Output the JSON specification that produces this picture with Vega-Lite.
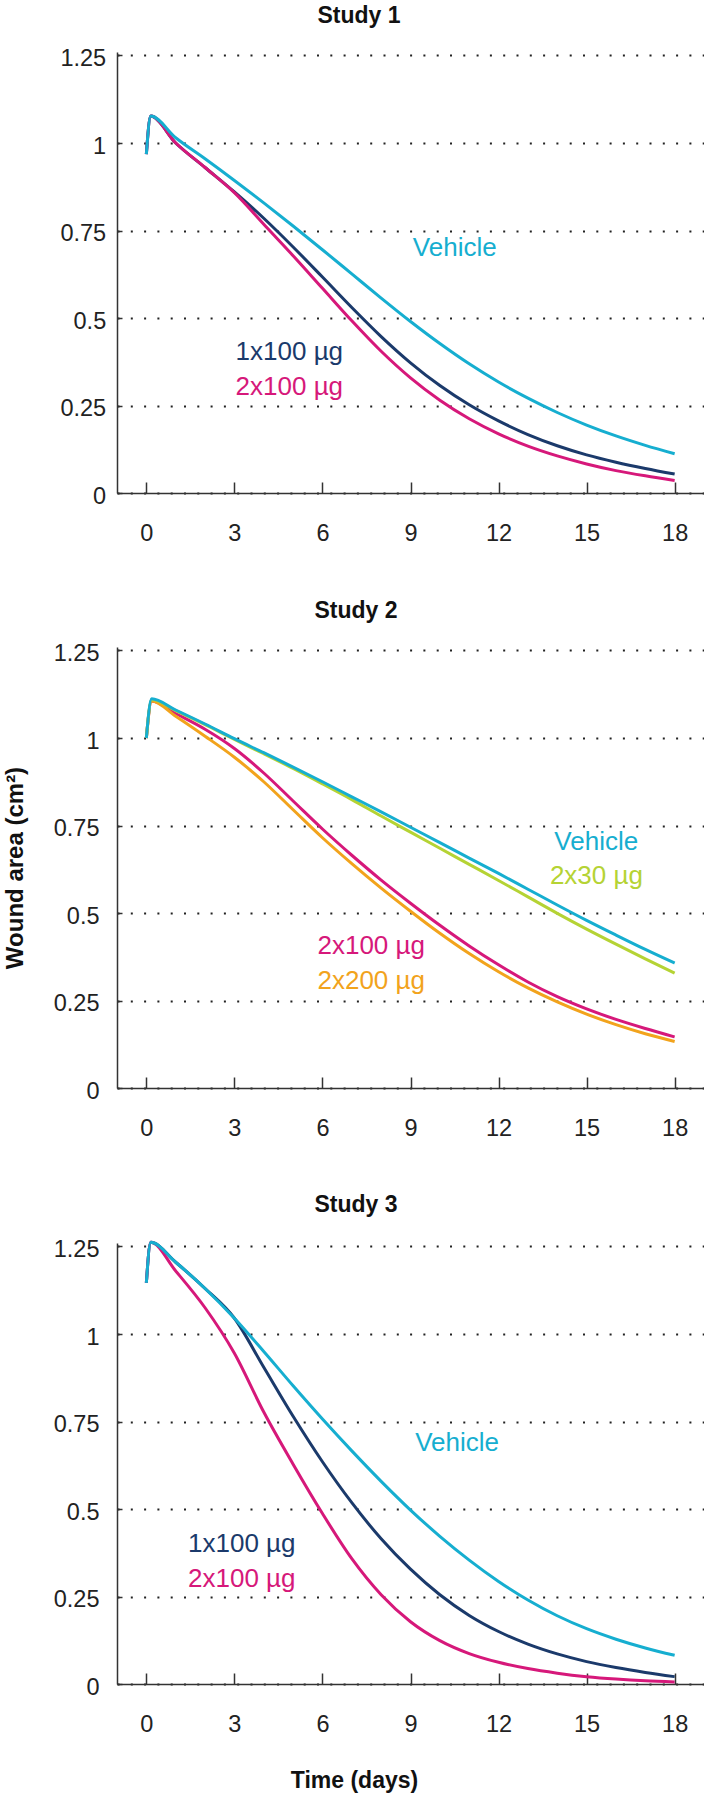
{
  "$schema": "https://vega.github.io/schema/vega-lite/v6.json",
  "background": "white",
  "padding": {"left": 3, "top": 4, "right": 0, "bottom": 0},
  "columns": 1,
  "align": "none",
  "spacing": 54,
  "config": {
    "font": "Liberation Sans",
    "view": {"stroke": null},
    "axis": {
      "domainColor": "#333333", "domainWidth": 1.5,
      "tickColor": "#333333", "tickWidth": 1.5,
      "labelColor": "#222222", "labelFontSize": 23.5, "labelFont": "Liberation Sans",
      "gridColor": "#222222", "gridDash": [2, 11.3], "gridWidth": 2,
      "titleColor": "#111111", "titleFont": "Liberation Sans", "titleFontWeight": "bold"
    },
    "title": {"font": "Liberation Sans", "fontSize": 23, "fontWeight": "bold", "color": "#111111", "anchor": "middle", "frame": "group", "offset": 19}
  },
  "datasets": {
    "curves": [
      {"s":1,"g":"1x100 µg","d":0,"a":0.968},{"s":1,"g":"1x100 µg","d":0.15,"a":1.077},{"s":1,"g":"1x100 µg","d":1,"a":1.0},{"s":1,"g":"1x100 µg","d":2,"a":0.93},{"s":1,"g":"1x100 µg","d":3,"a":0.86},{"s":1,"g":"1x100 µg","d":4,"a":0.785},{"s":1,"g":"1x100 µg","d":5,"a":0.703},{"s":1,"g":"1x100 µg","d":6,"a":0.617},{"s":1,"g":"1x100 µg","d":7,"a":0.53},{"s":1,"g":"1x100 µg","d":8,"a":0.447},{"s":1,"g":"1x100 µg","d":9,"a":0.372},{"s":1,"g":"1x100 µg","d":10,"a":0.307},{"s":1,"g":"1x100 µg","d":11,"a":0.252},{"s":1,"g":"1x100 µg","d":12,"a":0.206},{"s":1,"g":"1x100 µg","d":13,"a":0.167},{"s":1,"g":"1x100 µg","d":14,"a":0.135},{"s":1,"g":"1x100 µg","d":15,"a":0.109},{"s":1,"g":"1x100 µg","d":16,"a":0.088},{"s":1,"g":"1x100 µg","d":17,"a":0.07},{"s":1,"g":"1x100 µg","d":18,"a":0.054},
      {"s":1,"g":"2x100 µg","d":0,"a":0.968},{"s":1,"g":"2x100 µg","d":0.15,"a":1.077},{"s":1,"g":"2x100 µg","d":1,"a":1.0},{"s":1,"g":"2x100 µg","d":2,"a":0.93},{"s":1,"g":"2x100 µg","d":3,"a":0.858},{"s":1,"g":"2x100 µg","d":4,"a":0.768},{"s":1,"g":"2x100 µg","d":5,"a":0.678},{"s":1,"g":"2x100 µg","d":6,"a":0.585},{"s":1,"g":"2x100 µg","d":7,"a":0.492},{"s":1,"g":"2x100 µg","d":8,"a":0.405},{"s":1,"g":"2x100 µg","d":9,"a":0.329},{"s":1,"g":"2x100 µg","d":10,"a":0.265},{"s":1,"g":"2x100 µg","d":11,"a":0.212},{"s":1,"g":"2x100 µg","d":12,"a":0.169},{"s":1,"g":"2x100 µg","d":13,"a":0.134},{"s":1,"g":"2x100 µg","d":14,"a":0.106},{"s":1,"g":"2x100 µg","d":15,"a":0.083},{"s":1,"g":"2x100 µg","d":16,"a":0.064},{"s":1,"g":"2x100 µg","d":17,"a":0.049},{"s":1,"g":"2x100 µg","d":18,"a":0.036},
      {"s":1,"g":"Vehicle","d":0,"a":0.968},{"s":1,"g":"Vehicle","d":0.15,"a":1.077},{"s":1,"g":"Vehicle","d":1,"a":1.015},{"s":1,"g":"Vehicle","d":2,"a":0.955},{"s":1,"g":"Vehicle","d":3,"a":0.893},{"s":1,"g":"Vehicle","d":4,"a":0.829},{"s":1,"g":"Vehicle","d":5,"a":0.763},{"s":1,"g":"Vehicle","d":6,"a":0.695},{"s":1,"g":"Vehicle","d":7,"a":0.626},{"s":1,"g":"Vehicle","d":8,"a":0.557},{"s":1,"g":"Vehicle","d":9,"a":0.49},{"s":1,"g":"Vehicle","d":10,"a":0.427},{"s":1,"g":"Vehicle","d":11,"a":0.369},{"s":1,"g":"Vehicle","d":12,"a":0.317},{"s":1,"g":"Vehicle","d":13,"a":0.271},{"s":1,"g":"Vehicle","d":14,"a":0.23},{"s":1,"g":"Vehicle","d":15,"a":0.194},{"s":1,"g":"Vehicle","d":16,"a":0.163},{"s":1,"g":"Vehicle","d":17,"a":0.136},{"s":1,"g":"Vehicle","d":18,"a":0.112},
      {"s":2,"g":"2x100 µg","d":0,"a":1.0},{"s":2,"g":"2x100 µg","d":0.18,"a":1.106},{"s":2,"g":"2x100 µg","d":1,"a":1.07},{"s":2,"g":"2x100 µg","d":2,"a":1.025},{"s":2,"g":"2x100 µg","d":3,"a":0.97},{"s":2,"g":"2x100 µg","d":4,"a":0.9},{"s":2,"g":"2x100 µg","d":5,"a":0.82},{"s":2,"g":"2x100 µg","d":6,"a":0.74},{"s":2,"g":"2x100 µg","d":7,"a":0.665},{"s":2,"g":"2x100 µg","d":8,"a":0.594},{"s":2,"g":"2x100 µg","d":9,"a":0.528},{"s":2,"g":"2x100 µg","d":10,"a":0.465},{"s":2,"g":"2x100 µg","d":11,"a":0.406},{"s":2,"g":"2x100 µg","d":12,"a":0.352},{"s":2,"g":"2x100 µg","d":13,"a":0.303},{"s":2,"g":"2x100 µg","d":14,"a":0.261},{"s":2,"g":"2x100 µg","d":15,"a":0.226},{"s":2,"g":"2x100 µg","d":16,"a":0.196},{"s":2,"g":"2x100 µg","d":17,"a":0.17},{"s":2,"g":"2x100 µg","d":18,"a":0.146},
      {"s":2,"g":"2x200 µg","d":0,"a":1.0},{"s":2,"g":"2x200 µg","d":0.18,"a":1.106},{"s":2,"g":"2x200 µg","d":1,"a":1.062},{"s":2,"g":"2x200 µg","d":2,"a":1.005},{"s":2,"g":"2x200 µg","d":3,"a":0.945},{"s":2,"g":"2x200 µg","d":4,"a":0.875},{"s":2,"g":"2x200 µg","d":5,"a":0.795},{"s":2,"g":"2x200 µg","d":6,"a":0.715},{"s":2,"g":"2x200 µg","d":7,"a":0.641},{"s":2,"g":"2x200 µg","d":8,"a":0.571},{"s":2,"g":"2x200 µg","d":9,"a":0.505},{"s":2,"g":"2x200 µg","d":10,"a":0.442},{"s":2,"g":"2x200 µg","d":11,"a":0.384},{"s":2,"g":"2x200 µg","d":12,"a":0.332},{"s":2,"g":"2x200 µg","d":13,"a":0.286},{"s":2,"g":"2x200 µg","d":14,"a":0.246},{"s":2,"g":"2x200 µg","d":15,"a":0.211},{"s":2,"g":"2x200 µg","d":16,"a":0.181},{"s":2,"g":"2x200 µg","d":17,"a":0.155},{"s":2,"g":"2x200 µg","d":18,"a":0.133},
      {"s":2,"g":"2x30 µg","d":0,"a":1.0},{"s":2,"g":"2x30 µg","d":0.18,"a":1.11},{"s":2,"g":"2x30 µg","d":1,"a":1.078},{"s":2,"g":"2x30 µg","d":2,"a":1.038},{"s":2,"g":"2x30 µg","d":3,"a":0.996},{"s":2,"g":"2x30 µg","d":4,"a":0.955},{"s":2,"g":"2x30 µg","d":5,"a":0.913},{"s":2,"g":"2x30 µg","d":6,"a":0.869},{"s":2,"g":"2x30 µg","d":7,"a":0.824},{"s":2,"g":"2x30 µg","d":8,"a":0.777},{"s":2,"g":"2x30 µg","d":9,"a":0.731},{"s":2,"g":"2x30 µg","d":10,"a":0.685},{"s":2,"g":"2x30 µg","d":11,"a":0.639},{"s":2,"g":"2x30 µg","d":12,"a":0.593},{"s":2,"g":"2x30 µg","d":13,"a":0.546},{"s":2,"g":"2x30 µg","d":14,"a":0.499},{"s":2,"g":"2x30 µg","d":15,"a":0.454},{"s":2,"g":"2x30 µg","d":16,"a":0.411},{"s":2,"g":"2x30 µg","d":17,"a":0.369},{"s":2,"g":"2x30 µg","d":18,"a":0.328},
      {"s":2,"g":"Vehicle","d":0,"a":1.0},{"s":2,"g":"Vehicle","d":0.18,"a":1.112},{"s":2,"g":"Vehicle","d":1,"a":1.08},{"s":2,"g":"Vehicle","d":2,"a":1.04},{"s":2,"g":"Vehicle","d":3,"a":0.998},{"s":2,"g":"Vehicle","d":4,"a":0.958},{"s":2,"g":"Vehicle","d":5,"a":0.917},{"s":2,"g":"Vehicle","d":6,"a":0.875},{"s":2,"g":"Vehicle","d":7,"a":0.832},{"s":2,"g":"Vehicle","d":8,"a":0.789},{"s":2,"g":"Vehicle","d":9,"a":0.745},{"s":2,"g":"Vehicle","d":10,"a":0.701},{"s":2,"g":"Vehicle","d":11,"a":0.657},{"s":2,"g":"Vehicle","d":12,"a":0.613},{"s":2,"g":"Vehicle","d":13,"a":0.568},{"s":2,"g":"Vehicle","d":14,"a":0.523},{"s":2,"g":"Vehicle","d":15,"a":0.479},{"s":2,"g":"Vehicle","d":16,"a":0.437},{"s":2,"g":"Vehicle","d":17,"a":0.396},{"s":2,"g":"Vehicle","d":18,"a":0.357},
      {"s":3,"g":"1x100 µg","d":0,"a":1.146},{"s":3,"g":"1x100 µg","d":0.15,"a":1.262},{"s":3,"g":"1x100 µg","d":1,"a":1.205},{"s":3,"g":"1x100 µg","d":2,"a":1.13},{"s":3,"g":"1x100 µg","d":3,"a":1.045},{"s":3,"g":"1x100 µg","d":4,"a":0.905},{"s":3,"g":"1x100 µg","d":5,"a":0.765},{"s":3,"g":"1x100 µg","d":6,"a":0.635},{"s":3,"g":"1x100 µg","d":7,"a":0.518},{"s":3,"g":"1x100 µg","d":8,"a":0.415},{"s":3,"g":"1x100 µg","d":9,"a":0.328},{"s":3,"g":"1x100 µg","d":10,"a":0.255},{"s":3,"g":"1x100 µg","d":11,"a":0.196},{"s":3,"g":"1x100 µg","d":12,"a":0.15},{"s":3,"g":"1x100 µg","d":13,"a":0.114},{"s":3,"g":"1x100 µg","d":14,"a":0.086},{"s":3,"g":"1x100 µg","d":15,"a":0.064},{"s":3,"g":"1x100 µg","d":16,"a":0.047},{"s":3,"g":"1x100 µg","d":17,"a":0.033},{"s":3,"g":"1x100 µg","d":18,"a":0.021},
      {"s":3,"g":"2x100 µg","d":0,"a":1.146},{"s":3,"g":"2x100 µg","d":0.15,"a":1.262},{"s":3,"g":"2x100 µg","d":1,"a":1.18},{"s":3,"g":"2x100 µg","d":2,"a":1.075},{"s":3,"g":"2x100 µg","d":3,"a":0.945},{"s":3,"g":"2x100 µg","d":4,"a":0.777},{"s":3,"g":"2x100 µg","d":5,"a":0.628},{"s":3,"g":"2x100 µg","d":6,"a":0.487},{"s":3,"g":"2x100 µg","d":7,"a":0.358},{"s":3,"g":"2x100 µg","d":8,"a":0.255},{"s":3,"g":"2x100 µg","d":9,"a":0.178},{"s":3,"g":"2x100 µg","d":10,"a":0.124},{"s":3,"g":"2x100 µg","d":11,"a":0.087},{"s":3,"g":"2x100 µg","d":12,"a":0.062},{"s":3,"g":"2x100 µg","d":13,"a":0.044},{"s":3,"g":"2x100 µg","d":14,"a":0.031},{"s":3,"g":"2x100 µg","d":15,"a":0.021},{"s":3,"g":"2x100 µg","d":16,"a":0.014},{"s":3,"g":"2x100 µg","d":17,"a":0.009},{"s":3,"g":"2x100 µg","d":18,"a":0.006},
      {"s":3,"g":"Vehicle","d":0,"a":1.146},{"s":3,"g":"Vehicle","d":0.15,"a":1.262},{"s":3,"g":"Vehicle","d":1,"a":1.205},{"s":3,"g":"Vehicle","d":2,"a":1.13},{"s":3,"g":"Vehicle","d":3,"a":1.045},{"s":3,"g":"Vehicle","d":4,"a":0.95},{"s":3,"g":"Vehicle","d":5,"a":0.852},{"s":3,"g":"Vehicle","d":6,"a":0.757},{"s":3,"g":"Vehicle","d":7,"a":0.666},{"s":3,"g":"Vehicle","d":8,"a":0.579},{"s":3,"g":"Vehicle","d":9,"a":0.497},{"s":3,"g":"Vehicle","d":10,"a":0.422},{"s":3,"g":"Vehicle","d":11,"a":0.354},{"s":3,"g":"Vehicle","d":12,"a":0.293},{"s":3,"g":"Vehicle","d":13,"a":0.24},{"s":3,"g":"Vehicle","d":14,"a":0.195},{"s":3,"g":"Vehicle","d":15,"a":0.158},{"s":3,"g":"Vehicle","d":16,"a":0.128},{"s":3,"g":"Vehicle","d":17,"a":0.103},{"s":3,"g":"Vehicle","d":18,"a":0.082}
    ],
    "labels": [
      {"s":1,"g":"Vehicle","d":9.08,"a":0.70},{"s":1,"g":"1x100 µg","d":3.04,"a":0.404},{"s":1,"g":"2x100 µg","d":3.04,"a":0.304},
      {"s":2,"g":"Vehicle","d":13.9,"a":0.704},{"s":2,"g":"2x30 µg","d":13.75,"a":0.607},{"s":2,"g":"2x100 µg","d":5.83,"a":0.405},{"s":2,"g":"2x200 µg","d":5.83,"a":0.305},
      {"s":3,"g":"Vehicle","d":9.16,"a":0.688},{"s":3,"g":"1x100 µg","d":1.42,"a":0.40},{"s":3,"g":"2x100 µg","d":1.42,"a":0.30}
    ]
  },
  "concat": [
    {
      "width": 587, "height": 441,
      "title": {"text": "Study 1", "dx": -51.5},
      "layer": [
        {
          "data": {"name": "curves"},
          "transform": [{"filter": "datum.s == 1"}],
          "mark": {"type": "line", "interpolate": "monotone", "strokeWidth": 3},
          "encoding": {
            "x": {"field": "d", "type": "quantitative", "scale": {"domain": [-1, 19], "nice": false, "zero": false}, "axis": {"values": [0,3,6,9,12,15,18], "title": null, "tickSize": -11, "labelPadding": 39, "grid": false}},
            "y": {"field": "a", "type": "quantitative", "scale": {"domain": [0, 1.26], "nice": false}, "axis": {"values": [0,0.25,0.5,0.75,1,1.25], "labelExpr": "format(datum.value, '~g')", "title": "Wound area (cm²)", "titleOpacity": 0, "titleFontSize": 24, "titlePadding": 26, "tickSize": -5, "labelPadding": 16.3, "labelOffset": 3, "grid": true}},
            "color": {"field": "g", "type": "nominal", "scale": {"domain": ["Vehicle","1x100 µg","2x100 µg","2x30 µg","2x200 µg"], "range": ["#16AED0","#1B3A6B","#D6187A","#B5D334","#F2A31C"]}, "legend": null}
          }
        },
        {
          "data": {"name": "labels"},
          "transform": [{"filter": "datum.s == 1"}],
          "mark": {"type": "text", "align": "left", "baseline": "middle", "fontSize": 26, "font": "Liberation Sans"},
          "encoding": {
            "x": {"field": "d", "type": "quantitative"},
            "y": {"field": "a", "type": "quantitative"},
            "text": {"field": "g"},
            "color": {"field": "g", "type": "nominal", "legend": null}
          }
        }
      ]
    },
    {
      "width": 587, "height": 441,
      "title": {"text": "Study 2", "dx": -54.5},
      "layer": [
        {
          "data": {"name": "curves"},
          "transform": [{"filter": "datum.s == 2"}],
          "mark": {"type": "line", "interpolate": "monotone", "strokeWidth": 3},
          "encoding": {
            "x": {"field": "d", "type": "quantitative", "scale": {"domain": [-1, 19], "nice": false, "zero": false}, "axis": {"values": [0,3,6,9,12,15,18], "title": null, "tickSize": -11, "labelPadding": 39, "grid": false}},
            "y": {"field": "a", "type": "quantitative", "scale": {"domain": [0, 1.26], "nice": false}, "axis": {"values": [0,0.25,0.5,0.75,1,1.25], "labelExpr": "format(datum.value, '~g')", "title": "Wound area (cm²)", "titleFontSize": 24, "titlePadding": 26, "tickSize": -5, "labelPadding": 23, "labelOffset": 3, "grid": true}},
            "color": {"field": "g", "type": "nominal", "legend": null}
          }
        },
        {
          "data": {"name": "labels"},
          "transform": [{"filter": "datum.s == 2"}],
          "mark": {"type": "text", "align": "left", "baseline": "middle", "fontSize": 26, "font": "Liberation Sans"},
          "encoding": {
            "x": {"field": "d", "type": "quantitative"},
            "y": {"field": "a", "type": "quantitative"},
            "text": {"field": "g"},
            "color": {"field": "g", "type": "nominal", "legend": null}
          }
        }
      ]
    },
    {
      "width": 587, "height": 441,
      "title": {"text": "Study 3", "dx": -54.5},
      "layer": [
        {
          "data": {"name": "curves"},
          "transform": [{"filter": "datum.s == 3"}],
          "mark": {"type": "line", "interpolate": "monotone", "strokeWidth": 3},
          "encoding": {
            "x": {"field": "d", "type": "quantitative", "scale": {"domain": [-1, 19], "nice": false, "zero": false}, "axis": {"values": [0,3,6,9,12,15,18], "title": "Time (days)", "titleFontSize": 23, "titleX": 237, "titleAlign": "center", "titleBaseline": "middle", "titlePadding": 45, "tickSize": -11, "labelPadding": 39, "grid": false}},
            "y": {"field": "a", "type": "quantitative", "scale": {"domain": [0, 1.26], "nice": false}, "axis": {"values": [0,0.25,0.5,0.75,1,1.25], "labelExpr": "format(datum.value, '~g')", "title": "Wound area (cm²)", "titleOpacity": 0, "titleFontSize": 24, "titlePadding": 26, "tickSize": -5, "labelPadding": 23, "labelOffset": 3, "grid": true}},
            "color": {"field": "g", "type": "nominal", "legend": null}
          }
        },
        {
          "data": {"name": "labels"},
          "transform": [{"filter": "datum.s == 3"}],
          "mark": {"type": "text", "align": "left", "baseline": "middle", "fontSize": 26, "font": "Liberation Sans"},
          "encoding": {
            "x": {"field": "d", "type": "quantitative"},
            "y": {"field": "a", "type": "quantitative"},
            "text": {"field": "g"},
            "color": {"field": "g", "type": "nominal", "legend": null}
          }
        }
      ]
    }
  ]
}
